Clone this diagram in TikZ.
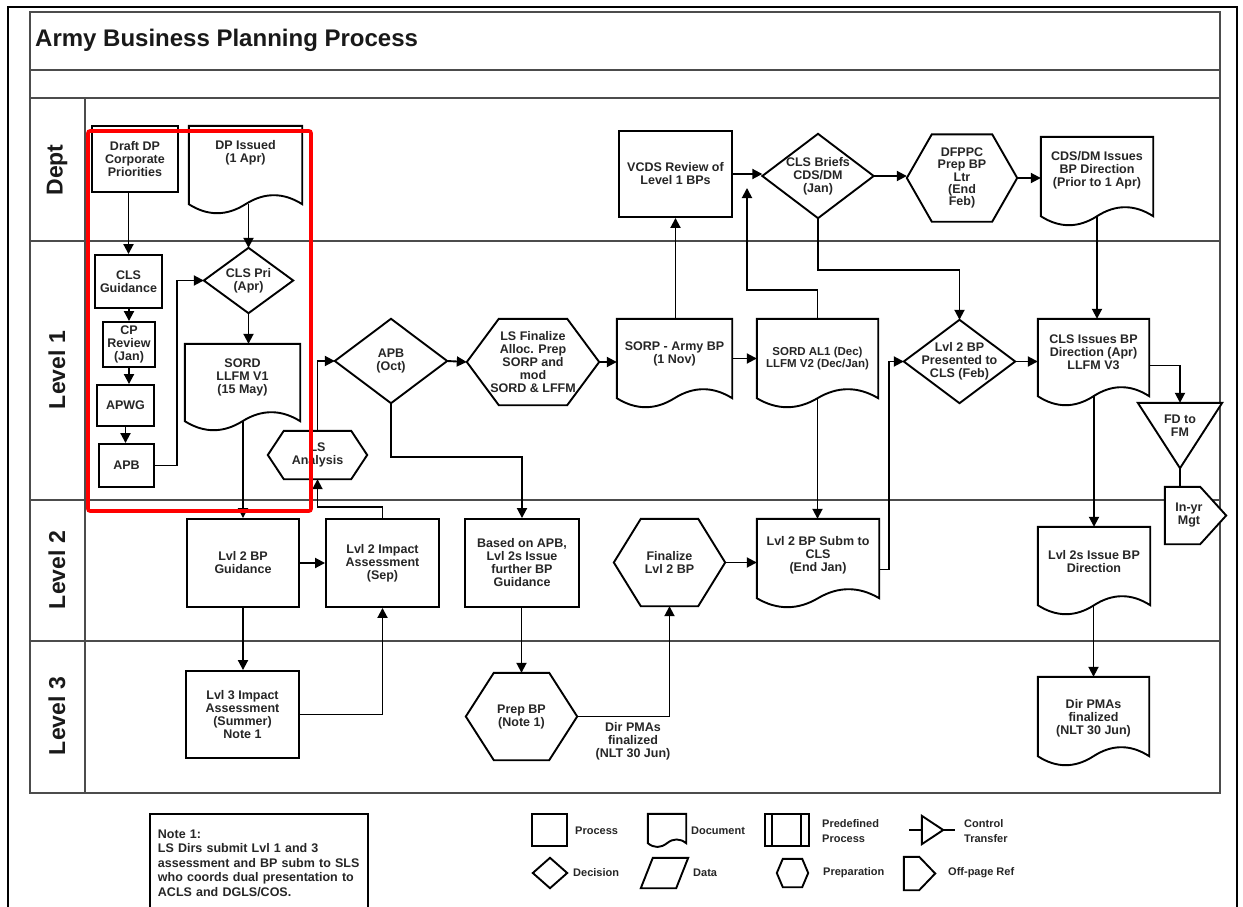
\documentclass[tikz,border=0pt]{standalone}
\usepackage{fontspec}
\setmainfont{Liberation Sans}
\usetikzlibrary{arrows.meta,calc}

\pgfdeclarelayer{frame}
\pgfdeclarelayer{shapes}
\pgfsetlayers{frame,shapes,main}

\tikzset{
  lbl/.style={font=\fontsize{12.5}{13}\selectfont\bfseries, text=black!85, align=center, inner sep=0pt},
  sz/.style 2 args={minimum width=#1, minimum height=#2},
  frm/.style={lbl, rectangle},
  proc/.style={lbl, rectangle, draw=black, line width=1.9pt, fill=white},
  shp/.style={draw=black, line width=1.9pt, line join=miter, fill=white},
  arr/.style={draw=black, line width=1.9pt, -{Triangle[length=10pt,width=10pt]}},
  lnk/.style={draw=black, line width=1.9pt},
  frameline/.style={draw=black!70, line width=1.9pt},
  lane/.style={font=\fontsize{23}{26}\selectfont\bfseries, rotate=90, inner sep=0pt, text=black!90},
  lgd/.style={font=\fontsize{11}{15.5}\selectfont\bfseries, text=black!85, inner sep=0pt, align=left},
  legbox/.style={rectangle, draw=black, line width=1.9pt, inner sep=0pt}
}

% outlines drawn from the anchors of a plain rectangle node
\newcommand\docout[2]{\begin{pgfonlayer}{shapes}\draw[shp] (#1.north west) -- (#1.south west)
  .. controls ($(#1.south west)!0.333!(#1.south)+(0,#2)$) and ($(#1.south west)!0.667!(#1.south)+(0,#2)$) .. (#1.south)
  .. controls ($(#1.south)!0.333!(#1.south east)-(0,#2)$) and ($(#1.south)!0.667!(#1.south east)-(0,#2)$) .. (#1.south east)
  -- (#1.north east) -- cycle;\end{pgfonlayer}}
\newcommand\hexout[2]{\begin{pgfonlayer}{shapes}\draw[shp] (#1.west) -- ($(#1.north west)+(#2,0)$) -- ($(#1.north east)-(#2,0)$) -- (#1.east) -- ($(#1.south east)-(#2,0)$) -- ($(#1.south west)+(#2,0)$) -- cycle;\end{pgfonlayer}}
\newcommand\diaout[1]{\begin{pgfonlayer}{shapes}\draw[shp] (#1.north) -- (#1.east) -- (#1.south) -- (#1.west) -- cycle;\end{pgfonlayer}}
\newcommand\offout[2]{\begin{pgfonlayer}{shapes}\draw[shp] (#1.north west) -- ($(#1.north east)-(#2,0)$) -- (#1.east) -- ($(#1.south east)-(#2,0)$) -- (#1.south west) -- cycle;\end{pgfonlayer}}
\newcommand\parout[2]{\begin{pgfonlayer}{shapes}\draw[shp] (#1.south west) -- ($(#1.north west)+(#2,0)$) -- (#1.north east) -- ($(#1.south east)-(#2,0)$) -- cycle;\end{pgfonlayer}}

\begin{document}
\begin{tikzpicture}[x=1pt,y=-1pt]
\useasboundingbox (0,0) rectangle (1243,907);

% page and swimlane frame
\begin{pgfonlayer}{frame}
\fill[white] (0,0) rectangle (1243,907);
\draw[black, line width=2pt] (8,7) rectangle (1237,1000);
\draw[frameline] (30,12) rectangle (1220,793);
\draw[frameline] (30,70) -- (1220,70);
\draw[frameline] (30,98) -- (1220,98);
\draw[frameline] (85,98) -- (85,793);
\draw[frameline] (30,241) -- (1220,241);
\draw[frameline] (30,500) -- (1220,500);
\draw[frameline] (30,641) -- (1220,641);
\end{pgfonlayer}

\node[font=\fontsize{24}{28}\selectfont\bfseries, anchor=base west, inner sep=0pt, text=black!90] (title) at (35,47) {Army Business Planning Process};

\node[lane] (lane-dept) at (57,170) {Dept};
\node[lane] (lane-l1) at (57,370) {Level 1};
\node[lane] (lane-l2) at (57,570) {Level 2};
\node[lane] (lane-l3) at (57,716) {Level 3};

% ---------- Dept ----------
\node[proc, sz={86}{66}] (draft) at (135,159) {Draft DP\\Corporate\\Priorities};
\node[frm, sz={113}{78}] (dpi) at (245.5,165) {}; \docout{dpi}{12}
\node[lbl, anchor=north] (dpi-t) at (245.5,140) {DP Issued\\(1 Apr)};
\node[proc, sz={113}{86}] (vcds) at (675.5,174) {VCDS Review of\\Level 1 BPs};
\node[frm, sz={111}{84}] (clsb) at (818,176) {CLS Briefs\\CDS/DM\\(Jan)}; \diaout{clsb}
\coordinate (clsb-in) at (747,188);
\node[frm, sz={110}{87}, font=\fontsize{12.5}{12.3}\selectfont\bfseries] (dfppc) at (962,178) {DFPPC\\Prep BP\\Ltr\\(End\\Feb)}; \hexout{dfppc}{25}
\node[frm, sz={112}{79}] (cdsdm) at (1097,176.5) {}; \docout{cdsdm}{12}
\node[lbl, anchor=north] (cdsdm-t) at (1097,151) {CDS/DM Issues\\BP Direction\\(Prior to 1 Apr)};

% ---------- Level 1 ----------
\node[proc, sz={67}{53}] (clsg) at (128.5,281.5) {CLS\\Guidance};
\node[proc, sz={52}{45}] (cpr) at (129,344.5) {CP\\Review\\(Jan)};
\node[proc, sz={57}{41}] (apwg) at (125.5,405.5) {APWG};
\node[proc, sz={55}{43}] (apb1) at (126.5,465.5) {APB};
\node[frm, sz={89}{65}] (clspri) at (248.5,280.5) {CLS Pri\\(Apr)}; \diaout{clspri}
\node[frm, sz={115}{77}] (sord1) at (242.5,382.5) {}; \docout{sord1}{12}
\node[lbl, anchor=north] (sord1-t) at (242.5,359) {SORD\\LLFM V1\\(15 May)};
\node[frm, sz={99}{48}] (lsa) at (317.5,455) {LS\\Analysis}; \hexout{lsa}{16}
\node[frm, sz={112}{84}] (apb2) at (391,361) {APB\\(Oct)}; \diaout{apb2}
\node[frm, sz={132}{86}] (lsf) at (533,362) {LS Finalize\\Alloc. Prep\\SORP and\\mod\\SORD \& LFFM}; \hexout{lsf}{32}
\node[frm, sz={115}{79}] (sorp) at (674.5,358.5) {}; \docout{sorp}{12}
\node[lbl, anchor=north] (sorp-t) at (674.5,342) {SORP - Army BP\\(1 Nov)};
\node[frm, sz={121}{79}] (sord2) at (817.5,358.5) {}; \docout{sord2}{12}
\node[lbl, anchor=north, font=\fontsize{11.5}{11.5}\selectfont\bfseries] (sord2-t) at (817.5,347) {SORD AL1 (Dec)\\LLFM V2 (Dec/Jan)};
\node[frm, sz={111}{83}] (lvl2p) at (959.5,361.5) {Lvl 2 BP\\Presented to\\CLS (Feb)}; \diaout{lvl2p}
\node[frm, sz={111}{77}] (clsi) at (1093.5,357.5) {}; \docout{clsi}{12}
\node[lbl, anchor=north] (clsi-t) at (1093.5,335) {CLS Issues BP\\Direction (Apr)\\LLFM V3};
\node[frm, sz={84}{46}] (fdfm) at (1180,426) {FD to\\FM};
\coordinate (fdfm-tip) at ($(fdfm.south)+(0,19)$);
\begin{pgfonlayer}{shapes}\draw[shp] (fdfm.north west) -- (fdfm.north east) -- (fdfm-tip) -- cycle;\end{pgfonlayer}
% off-page reference: node covers the body, the point sticks out to the right
\node[frm, sz={48}{57}] (inyr) at (1189,515.5) {In-yr\\Mgt};
\begin{pgfonlayer}{shapes}\draw[shp] (inyr.north west) -- ($(inyr.north east)-(13,0)$) -- ($(inyr.east)+(13,0)$) -- ($(inyr.south east)-(13,0)$) -- (inyr.south west) -- cycle;\end{pgfonlayer}

% ---------- Level 2 ----------
\node[proc, sz={112}{88}] (l2g) at (243,563) {Lvl 2 BP\\Guidance};
\node[proc, sz={113}{88}] (l2ia) at (382.5,563) {Lvl 2 Impact\\Assessment\\(Sep)};
\node[proc, sz={114}{88}] (basd) at (522,563) {Based on APB,\\Lvl 2s Issue\\further BP\\Guidance};
\node[frm, sz={111}{87}] (fin) at (669.5,562.5) {Finalize\\Lvl 2 BP}; \hexout{fin}{27}
\node[frm, sz={122}{79}] (l2s) at (818,558.5) {}; \docout{l2s}{12}
\node[lbl, anchor=north] (l2s-t) at (818,536) {Lvl 2 BP Subm to\\CLS\\(End Jan)};
\node[frm, sz={112}{78}] (l2d) at (1094,566) {}; \docout{l2d}{12}
\node[lbl, anchor=north] (l2d-t) at (1094,550) {Lvl 2s Issue BP\\Direction};

% ---------- Level 3 ----------
\node[proc, sz={113}{87}] (l3ia) at (242.5,714.5) {Lvl 3 Impact\\Assessment\\(Summer)\\Note 1};
\node[frm, sz={111}{87}] (prep) at (521.5,716.5) {Prep BP\\(Note 1)}; \hexout{prep}{28}
\node[lbl] (pma) at (633,741) {Dir PMAs\\finalized\\(NLT 30 Jun)};
\node[frm, sz={111}{79}] (dirp) at (1093.5,716.5) {}; \docout{dirp}{12}
\node[lbl, anchor=north] (dirp-t) at (1093.5,699) {Dir PMAs\\finalized\\(NLT 30 Jun)};

% ---------- connectors ----------
\draw[arr] (draft.south -| clsg.north) -- (clsg.north);
\draw[arr] (dpi.south -| clspri.north) -- (clspri.north);
\draw[arr] (clsg.south -| cpr.north) -- (cpr.north);
\draw[arr] (cpr.south) -- (cpr.south |- apwg.north);
\draw[arr] (apwg.south) -- (apwg.south |- apb1.north);
\draw[arr] (apb1.east) -- ++(22,0) |- (clspri.west);
\draw[arr] (clspri.south) -- (clspri.south |- sord1.north);
\draw[arr] (sord1.south -| l2g.north) -- (l2g.north);
\draw[arr] (l2ia.north) -- ++(0,-11) -| (lsa.south);
\draw[arr] (lsa.north) |- (apb2.west);
\draw[arr] (l2g.east) -- (l2ia.west);
\draw[arr] (l2g.south) -- (l2g.south |- l3ia.north);
\draw[arr] (l3ia.east) -| (l2ia.south);
\draw[arr] (apb2.south) -- ++(0,54) -| (basd.north);
\draw[arr] (apb2.east) -- (lsf.west);
\draw[arr] (lsf.east) -- (lsf.east -| sorp.west);
\draw[arr] (sorp.north -| vcds.south) -- (vcds.south);
\draw[arr] (sorp.east) -- (sord2.west);
\draw[arr] (sord2.north) -- ++(0,-29) -| (clsb-in);
\draw[arr] (vcds.east) -- (vcds.east -| clsb.west);
\draw[arr] (clsb.south) -- ++(0,51.5) -| (lvl2p.north);
\draw[arr] (clsb.east) -- (clsb.east -| dfppc.west);
\draw[arr] (dfppc.east) -- (dfppc.east -| cdsdm.west);
\draw[arr] (cdsdm.south) -- (cdsdm.south |- clsi.north);
\draw[arr] (lvl2p.east) -- (lvl2p.east -| clsi.west);
\draw[arr] ($(clsi.east)+(0,8)$) -| (fdfm.north);
\draw[lnk] (fdfm-tip) -- (fdfm-tip |- inyr.north);
\draw[arr] (clsi.south -| l2d.north) -- (l2d.north);
\draw[arr] (l2d.south -| dirp.north) -- (dirp.north);
\draw[arr] (sord2.south) -- (sord2.south |- l2s.north);
\draw[arr] (fin.east) -- (fin.east -| l2s.west);
\draw[arr] ($(l2s.east)+(0,11)$) -- ++(10,0) |- (lvl2p.west);
\draw[arr] (basd.south -| prep.north) -- (prep.north);
\draw[arr] (prep.east) -| (fin.south);

% ---------- highlight ----------
\draw[red, line width=3.6pt, rounded corners=2pt] (88,131) rectangle (311,511);

% ---------- note and legend ----------
\node[draw=black, line width=1.9pt, anchor=north west, minimum width=218, minimum height=98, text width=202, inner xsep=8, inner ysep=0, align=left, font=\fontsize{12.5}{14.5}\selectfont\bfseries, text=black!85] (note) at (149,813) {Note 1:\\LS Dirs submit Lvl 1 and 3\\assessment and BP subm to SLS\\who coords dual presentation to\\ACLS and DGLS/COS.};

\node[legbox, sz={35}{32}] (lg-proc) at (549.5,830) {};
\node[lgd, anchor=west] (lg-proc-t) at (575,831) {Process};
\node[frm, sz={38}{29}] (lg-doc) at (667,828.5) {}; \docout{lg-doc}{5}
\node[lgd, anchor=west] (lg-doc-t) at (691,831) {Document};
\node[legbox, sz={44}{32}] (lg-pre) at (787,830) {};
\draw[shp] ($(lg-pre.north west)+(8,0)$) -- ($(lg-pre.south west)+(8,0)$);
\draw[shp] ($(lg-pre.north east)-(9,0)$) -- ($(lg-pre.south east)-(9,0)$);
\node[lgd, anchor=west] (lg-pre-t) at (822,831) {Predefined\\Process};
\node[frm, sz={21}{28}] (lg-ct) at (932.5,830) {};
\draw[shp] (lg-ct.north west) -- (lg-ct.east) -- (lg-ct.south west) -- cycle;
\draw[lnk] (lg-ct.west) -- ++(-13,0);
\draw[lnk] (lg-ct.east) -- ++(12,0);
\node[lgd, anchor=west] (lg-ct-t) at (964,831) {Control\\Transfer};
\node[frm, sz={34}{30}] (lg-dec) at (550,873) {}; \diaout{lg-dec}
\node[lgd, anchor=west] (lg-dec-t) at (573,873) {Decision};
\node[frm, sz={47}{30}] (lg-data) at (664.5,873) {}; \parout{lg-data}{12}
\node[lgd, anchor=west] (lg-data-t) at (693,873) {Data};
\node[frm, sz={31}{28}] (lg-prep) at (792.5,873) {}; \hexout{lg-prep}{6}
\node[lgd, anchor=west] (lg-prep-t) at (823,873) {Preparation};
\node[frm, sz={31}{33}] (lg-off) at (919.5,873.5) {}; \offout{lg-off}{16}
\node[lgd, anchor=west] (lg-off-t) at (948,873) {Off-page Ref};
\end{tikzpicture}
\end{document}
